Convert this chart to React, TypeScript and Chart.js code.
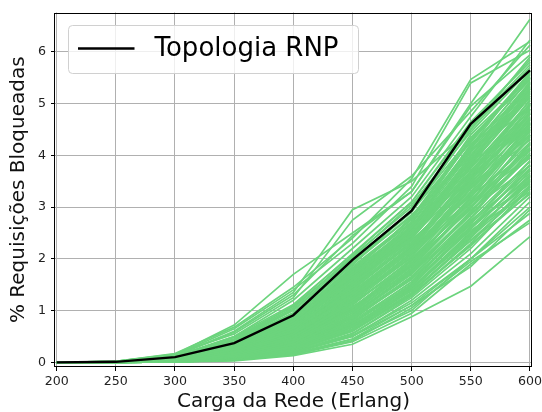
import React, { useEffect, useRef } from "react";
import { Chart, registerables } from "chart.js";

Chart.register(...registerables);

const cargas = [200, 250, 300, 350, 400, 450, 500, 550, 600];
const xTicks = [200, 250, 300, 350, 400, 450, 500, 550, 600];
const yTicks = [0, 1, 2, 3, 4, 5, 6];
const rnp = [0, 0.01, 0.1, 0.37, 0.91, 1.98, 2.93, 4.61, 5.64];
const legendLabel = "Topologia RNP";
const xTitle = "Carga da Rede (Erlang)";
const yTitle = "% Requisições Bloqueadas";

const outrasTopologias: number[][] = [
  [0, 0.02, 0.17, 0.68, 1.45, 2.4, 3.55, 5.47, 6.2],
  [0, 0.02, 0.15, 0.72, 1.7, 2.5, 3.3, 5.0, 6.63],
  [0, 0.01, 0.12, 0.6, 1.35, 2.95, 3.5, 4.5, 5.9],
  [0, 0.02, 0.16, 0.55, 1.25, 2.75, 3.6, 4.85, 6.13],
  [0, 0.01, 0.14, 0.65, 1.4, 2.3, 3.4, 5.4, 6.03],
  [0, 0.01, 0.1, 0.5, 1.2, 2.2, 3.2, 4.75, 6.23],
  [0, 0.02, 0.13, 0.58, 1.3, 2.45, 3.3, 4.95, 5.94],
  [0, 0.01, 0.11, 0.45, 1.1, 2.1, 3.1, 4.6, 5.85],
  [0, 0.01, 0.08, 0.35, 0.85, 1.8, 2.7, 4.3, 5.6],
  [0, 0.01, 0.06, 0.3, 0.75, 1.6, 2.5, 4.0, 5.4],
  [0, 0.01, 0.05, 0.25, 0.65, 1.5, 2.4, 3.8, 5.2],
  [0, 0.01, 0.07, 0.28, 0.7, 1.45, 2.3, 3.6, 5.0],
  [0, 0.0, 0.04, 0.2, 0.55, 1.3, 2.2, 3.5, 4.9],
  [0, 0.01, 0.05, 0.22, 0.6, 1.25, 2.1, 3.3, 4.7],
  [0, 0.0, 0.03, 0.15, 0.45, 1.1, 2.0, 3.2, 4.6],
  [0, 0.0, 0.04, 0.18, 0.5, 1.15, 1.9, 3.0, 4.4],
  [0, 0.0, 0.03, 0.12, 0.4, 0.95, 1.8, 2.9, 4.2],
  [0, 0.0, 0.02, 0.1, 0.35, 0.9, 1.7, 2.8, 4.1],
  [0, 0.0, 0.03, 0.13, 0.38, 0.85, 1.6, 2.7, 3.9],
  [0, 0.0, 0.02, 0.09, 0.3, 0.75, 1.5, 2.6, 3.8],
  [0, 0.0, 0.02, 0.08, 0.28, 0.7, 1.4, 2.5, 3.7],
  [0, 0.0, 0.02, 0.07, 0.25, 0.65, 1.35, 2.4, 3.6],
  [0, 0.0, 0.01, 0.06, 0.22, 0.6, 1.3, 2.3, 3.5],
  [0, 0.0, 0.01, 0.06, 0.2, 0.55, 1.25, 2.2, 3.4],
  [0, 0.0, 0.02, 0.1, 0.33, 0.8, 1.55, 2.55, 3.3],
  [0, 0.0, 0.01, 0.05, 0.18, 0.5, 1.2, 2.1, 3.2],
  [0, 0.0, 0.01, 0.05, 0.2, 0.52, 1.15, 2.0, 3.1],
  [0, 0.0, 0.01, 0.04, 0.16, 0.45, 1.1, 2.0, 3.0],
  [0, 0.0, 0.01, 0.03, 0.13, 0.35, 0.88, 1.47, 2.43],
  [0, 0.0, 0.01, 0.04, 0.15, 0.4, 0.95, 1.9, 2.75],
  [0, 0.0, 0.01, 0.05, 0.17, 0.45, 1.0, 2.0, 2.88],
  [0, 0.0, 0.01, 0.04, 0.15, 0.42, 1.05, 1.95, 2.7],
  [0, 0.0, 0.02, 0.06, 0.2, 0.5, 1.1, 1.85, 2.95],
  [0, 0.01, 0.06, 0.32, 0.8, 1.7, 2.45, 3.7, 4.8],
  [0, 0.01, 0.05, 0.27, 0.72, 1.55, 2.6, 3.9, 4.5],
  [0, 0.01, 0.07, 0.3, 0.78, 1.75, 2.8, 4.1, 4.9],
  [0, 0.01, 0.09, 0.4, 0.95, 1.9, 2.85, 4.0, 5.3],
  [0, 0.01, 0.06, 0.33, 0.9, 1.65, 2.55, 4.2, 5.1],
  [0, 0.0, 0.04, 0.24, 0.62, 1.4, 2.35, 3.4, 4.3],
  [0, 0.01, 0.05, 0.26, 0.68, 1.35, 2.25, 3.1, 4.0],
  [0, 0.0, 0.03, 0.17, 0.48, 1.2, 2.05, 3.35, 4.55],
  [0, 0.0, 0.04, 0.19, 0.52, 1.05, 1.95, 2.95, 3.8],
  [0, 0.0, 0.03, 0.14, 0.42, 1.0, 1.85, 3.05, 4.35],
  [0, 0.0, 0.02, 0.11, 0.36, 0.88, 1.65, 2.75, 3.65],
  [0, 0.0, 0.03, 0.12, 0.44, 1.08, 1.75, 2.65, 3.45],
  [0, 0.0, 0.02, 0.1, 0.31, 0.78, 1.45, 2.45, 3.55],
  [0, 0.0, 0.02, 0.09, 0.27, 0.68, 1.38, 2.35, 3.25],
  [0, 0.0, 0.01, 0.07, 0.24, 0.62, 1.32, 2.25, 3.35],
  [0, 0.01, 0.06, 0.29, 0.74, 1.58, 2.42, 3.55, 4.65],
  [0, 0.01, 0.07, 0.34, 0.82, 1.62, 2.65, 3.75, 5.05],
  [0, 0.01, 0.08, 0.37, 0.88, 1.85, 2.75, 4.4, 5.5],
  [0, 0.01, 0.05, 0.23, 0.66, 1.48, 2.28, 3.65, 4.75],
  [0, 0.0, 0.04, 0.21, 0.58, 1.28, 2.15, 3.25, 4.45],
  [0, 0.01, 0.09, 0.42, 1.0, 1.95, 2.9, 4.5, 5.7],
  [0, 0.01, 0.1, 0.45, 1.05, 2.05, 3.0, 4.55, 5.75],
  [0, 0.01, 0.08, 0.38, 0.92, 1.78, 2.62, 3.85, 5.15],
  [0, 0.01, 0.07, 0.31, 0.76, 1.52, 2.48, 3.95, 5.25],
  [0, 0.01, 0.05, 0.26, 0.64, 1.42, 2.32, 3.45, 4.85],
  [0, 0.0, 0.04, 0.2, 0.56, 1.22, 2.08, 3.15, 4.25],
  [0, 0.0, 0.03, 0.16, 0.46, 1.12, 1.98, 3.08, 4.15],
  [0, 0.0, 0.03, 0.13, 0.41, 0.98, 1.78, 2.85, 4.05],
  [0, 0.0, 0.02, 0.11, 0.34, 0.86, 1.62, 2.62, 3.75],
  [0, 0.0, 0.02, 0.09, 0.29, 0.72, 1.42, 2.42, 3.42],
  [0, 0.01, 0.06, 0.28, 0.73, 1.63, 2.58, 4.05, 5.35],
  [0, 0.01, 0.05, 0.24, 0.63, 1.44, 2.38, 3.75, 5.0],
  [0, 0.0, 0.04, 0.2, 0.57, 1.32, 2.18, 3.55, 4.95],
  [0, 0.0, 0.03, 0.15, 0.47, 1.18, 2.12, 3.38, 4.8],
  [0, 0.0, 0.03, 0.14, 0.43, 1.02, 1.88, 3.18, 4.5],
  [0, 0.0, 0.02, 0.12, 0.37, 0.92, 1.72, 2.88, 4.25],
  [0, 0.01, 0.08, 0.36, 0.86, 1.72, 2.52, 3.62, 4.6],
  [0, 0.01, 0.07, 0.32, 0.79, 1.58, 2.36, 3.42, 4.4],
  [0, 0.01, 0.05, 0.25, 0.67, 1.38, 2.2, 3.22, 4.1],
  [0, 0.0, 0.04, 0.21, 0.54, 1.24, 2.02, 3.02, 3.95],
  [0, 0.01, 0.09, 0.4, 0.93, 1.88, 2.95, 4.35, 5.45],
  [0, 0.01, 0.1, 0.44, 1.02, 2.0, 2.92, 4.25, 5.55],
  [0, 0.01, 0.11, 0.48, 1.08, 2.02, 3.05, 4.45, 5.65],
  [0, 0.01, 0.12, 0.5, 1.12, 2.08, 3.1, 4.65, 5.8],
  [0, 0.01, 0.06, 0.3, 0.8, 1.72, 2.68, 4.15, 5.48],
  [0, 0.01, 0.05, 0.27, 0.7, 1.6, 2.55, 3.98, 5.32],
  [0, 0.01, 0.07, 0.33, 0.83, 1.78, 2.78, 4.28, 5.58],
  [0, 0.0, 0.04, 0.23, 0.61, 1.46, 2.44, 3.82, 5.12],
  [0, 0.01, 0.05, 0.25, 0.66, 1.52, 2.5, 3.92, 5.22],
  [0, 0.01, 0.06, 0.29, 0.77, 1.68, 2.64, 4.08, 5.42],
  [0, 0.0, 0.04, 0.22, 0.6, 1.36, 2.26, 3.52, 4.72],
  [0, 0.0, 0.03, 0.18, 0.5, 1.26, 2.16, 3.42, 4.62],
  [0, 0.0, 0.03, 0.16, 0.47, 1.16, 2.04, 3.28, 4.52],
  [0, 0.0, 0.02, 0.13, 0.4, 1.04, 1.92, 3.12, 4.32],
  [0, 0.0, 0.02, 0.12, 0.38, 0.96, 1.82, 3.0, 4.22],
  [0, 0.0, 0.02, 0.1, 0.34, 0.9, 1.74, 2.92, 4.02],
  [0, 0.0, 0.02, 0.09, 0.31, 0.82, 1.64, 2.78, 3.88],
  [0, 0.0, 0.01, 0.08, 0.28, 0.76, 1.56, 2.68, 3.72],
  [0, 0.0, 0.01, 0.07, 0.26, 0.7, 1.48, 2.58, 3.62],
  [0, 0.0, 0.01, 0.06, 0.23, 0.64, 1.4, 2.48, 3.52],
  [0, 0.01, 0.08, 0.35, 0.84, 1.76, 2.58, 3.88, 5.38],
  [0, 0.01, 0.07, 0.31, 0.78, 1.66, 2.52, 3.78, 4.98],
  [0, 0.01, 0.06, 0.28, 0.71, 1.54, 2.4, 3.68, 4.88],
  [0, 0.01, 0.05, 0.24, 0.63, 1.4, 2.3, 3.58, 4.68],
  [0, 0.0, 0.04, 0.2, 0.55, 1.3, 2.22, 3.48, 4.58],
  [0, 0.0, 0.03, 0.17, 0.49, 1.22, 2.1, 3.36, 4.38],
  [0, 0.01, 0.09, 0.39, 0.9, 1.82, 2.72, 4.18, 5.62],
  [0, 0.01, 0.1, 0.41, 0.96, 1.92, 2.82, 4.32, 5.52],
  [0, 0.01, 0.08, 0.37, 0.87, 1.7, 2.6, 4.22, 5.28],
  [0, 0.01, 0.07, 0.33, 0.81, 1.6, 2.46, 3.9, 5.18],
  [0, 0.0, 0.03, 0.15, 0.45, 1.14, 1.96, 3.1, 4.48],
  [0, 0.0, 0.02, 0.12, 0.39, 1.0, 1.86, 2.98, 4.12],
  [0, 0.0, 0.02, 0.11, 0.35, 0.92, 1.76, 2.86, 3.98],
  [0, 0.0, 0.02, 0.1, 0.32, 0.84, 1.66, 2.72, 3.82],
  [0, 0.0, 0.01, 0.08, 0.27, 0.74, 1.52, 2.62, 3.58],
  [0, 0.0, 0.01, 0.07, 0.25, 0.68, 1.44, 2.52, 3.48],
  [0, 0.0, 0.01, 0.06, 0.22, 0.6, 1.34, 2.36, 3.38],
  [0, 0.0, 0.01, 0.05, 0.2, 0.56, 1.28, 2.28, 3.28],
  [0, 0.0, 0.04, 0.21, 0.59, 1.34, 2.24, 3.6, 5.08],
  [0, 0.01, 0.05, 0.26, 0.69, 1.5, 2.46, 3.86, 5.28],
  [0, 0.01, 0.06, 0.3, 0.75, 1.64, 2.62, 4.12, 5.5],
  [0, 0.0, 0.03, 0.19, 0.53, 1.2, 2.12, 3.44, 4.82],
  [0, 0.0, 0.04, 0.22, 0.6, 1.3, 2.2, 3.7, 4.98],
  [0, 0.0, 0.02, 0.14, 0.42, 1.06, 1.9, 3.2, 4.62],
];

const GREEN = "#6cd47d";
const FONT = '"DejaVu Sans", "Liberation Sans", sans-serif';

const framePlugin = {
  id: "frameAndLegend",
  afterDatasetsDraw(chart: any) {
    const { ctx, chartArea: a } = chart;
    ctx.save();
    ctx.strokeStyle = "#000";
    ctx.lineWidth = 1;
    const l = Math.round(a.left) - 0.5;
    const t = Math.round(a.top) + 0.5;
    const r = Math.round(a.right) - 0.5;
    const b = Math.round(a.bottom) - 0.5;
    ctx.strokeRect(l, t, r - l, b - t);
    ctx.restore();
  },
  afterDraw(chart: any) {
    const { ctx, chartArea: a } = chart;
    ctx.save();
    const bx = a.left + 13.5;
    const by = a.top + 13;
    const bw = 290;
    const bh = 48;
    ctx.beginPath();
    ctx.roundRect(bx, by, bw, bh, 4);
    ctx.fillStyle = "rgba(255,255,255,0.8)";
    ctx.fill();
    ctx.strokeStyle = "#d0d0d0";
    ctx.lineWidth = 1;
    ctx.stroke();
    ctx.beginPath();
    ctx.moveTo(bx + 9.5, by + 23);
    ctx.lineTo(bx + 66, by + 23);
    ctx.strokeStyle = "#000";
    ctx.lineWidth = 2.4;
    ctx.stroke();
    ctx.fillStyle = "#000";
    ctx.font = `26px ${FONT}`;
    ctx.textBaseline = "alphabetic";
    ctx.textAlign = "left";
    ctx.fillText(legendLabel, bx + 86, by + 30.5);
    ctx.restore();
  },
};

export default function App() {
  const ref = useRef<HTMLCanvasElement>(null);
  useEffect(() => {
    const canvas = ref.current;
    if (!canvas) return;
    Chart.defaults.font.family = FONT;
    const datasets: any[] = [
      {
        label: legendLabel,
        data: cargas.map((x, i) => ({ x, y: rnp[i] })),
        borderColor: "#000",
        backgroundColor: "#000",
        borderWidth: 2.4,
        pointRadius: 0,
        tension: 0,
      },
      ...outrasTopologias.map((s, k) => ({
        label: "topologia " + (k + 1),
        data: cargas.map((x, i) => ({ x, y: s[i] })),
        borderColor: GREEN,
        backgroundColor: GREEN,
        borderWidth: 1.7,
        pointRadius: 0,
        tension: 0,
      })),
    ];
    const chart = new Chart(canvas, {
      type: "line",
      data: { datasets },
      options: {
        responsive: false,
        animation: false,
        devicePixelRatio: 1,
        events: [],
        layout: { padding: { left: 0, right: 10, top: 12.5, bottom: 0 } },
        plugins: { legend: { display: false }, tooltip: { enabled: false } },
        scales: {
          x: {
            type: "linear",
            min: 198.6,
            max: 601.7,
            afterBuildTicks: (s: any) => {
              s.ticks = xTicks.map((v) => ({ value: v }));
            },
            afterFit: (s: any) => {
              s.height = 45;
              s.paddingLeft = 0;
              s.paddingRight = 0;
            },
            grid: { color: "#b0b0b0", lineWidth: 1, tickColor: "#000", tickLength: 4, drawTicks: true },
            border: { display: false },
            ticks: {
              autoSkip: false,
              maxRotation: 0,
              minRotation: 0,
              padding: 3,
              color: "#222",
              font: { size: 12.6 },
              callback: (v: any) => String(v),
            },
            title: {
              display: true,
              text: xTitle,
              color: "#111",
              font: { size: 20, lineHeight: 1.0 },
              padding: 0,
            },
          },
          y: {
            type: "linear",
            min: -0.09,
            max: 6.76,
            afterBuildTicks: (s: any) => {
              s.ticks = yTicks.map((v) => ({ value: v }));
            },
            afterFit: (s: any) => {
              s.width = 55;
              s.paddingTop = 0;
              s.paddingBottom = 0;
            },
            grid: { color: "#b0b0b0", lineWidth: 1, tickColor: "#000", tickLength: 4, drawTicks: true },
            border: { display: false },
            ticks: {
              autoSkip: false,
              padding: 5,
              color: "#222",
              font: { size: 12.6 },
              callback: (v: any) => String(v),
            },
            title: {
              display: true,
              text: yTitle,
              color: "#111",
              font: { size: 20, lineHeight: 1.0 },
              padding: { top: 9, bottom: 0 },
            },
          },
        },
      },
      plugins: [framePlugin],
    });
    return () => chart.destroy();
  }, []);
  return (
    <div style={{ position: "absolute", left: 0, top: 0, width: 542, height: 412, background: "#fff" }}>
      <canvas ref={ref} width={542} height={412} style={{ display: "block", width: 542, height: 412 }} />
    </div>
  );
}
